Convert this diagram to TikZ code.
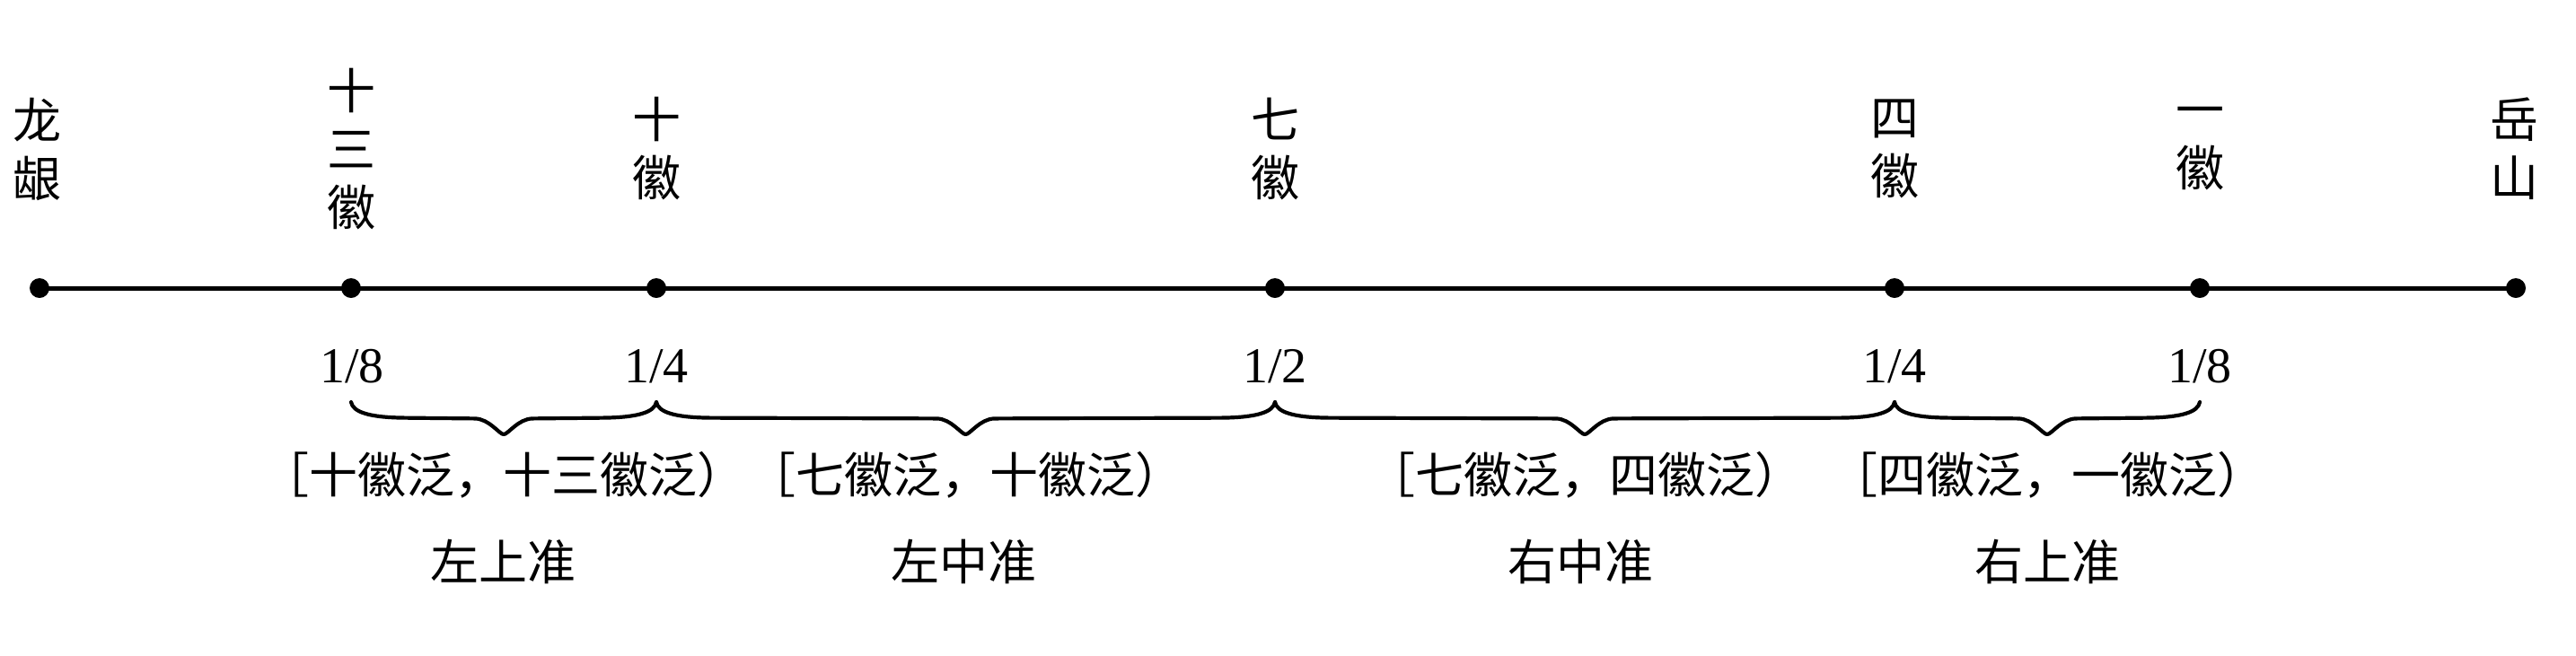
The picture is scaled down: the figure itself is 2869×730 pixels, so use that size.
\documentclass[tikz,border=0pt]{standalone}
\usepackage{fontspec}
\setmainfont{Liberation Serif}
\newfontfamily\cjk{Noto Sans CJK SC}
\usetikzlibrary{calc}
\newcommand{\lbrk}{\makebox[0.5em][r]{［}}
\newcommand{\rbrk}{\makebox[0.5em][l]{）}}
\begin{document}
\begin{tikzpicture}[x=0.25pt,y=-0.25pt,
  dotmark/.style={circle,fill=black,inner sep=0pt,minimum size=5.5pt},
  vlabel/.style={font=\cjk\fontsize{13.5pt}{16.25pt}\selectfont,align=center,inner sep=0pt},
  fraclabel/.style={font=\fontsize{14pt}{16pt}\selectfont,inner sep=0pt},
  rangelabel/.style={font=\cjk\fontsize{13.5pt}{16pt}\selectfont,inner sep=0pt},
  zhunlabel/.style={font=\cjk\fontsize{13.5pt}{16pt}\selectfont,inner sep=0pt},
  axisline/.style={line width=1.25pt},
  bracebar/.style={line width=1.05pt,line join=round,line cap=round},
  bracepath/.style={to path={let \p1=(\tikztostart), \p2=(\tikztotarget),
      \p3=($(\p1)!0.5!(\p2)$) in
    (\p1) .. controls (\x1+0.5pt,\y1-2.8pt) and (\x1+5pt,\y1-4.3pt) .. (\x1+15pt,\y1-4.4pt)
    -- (\x3-8pt,\y1-4.6pt)
    .. controls (\x3-4pt,\y1-4.7pt) and (\x3-1.2pt,\y1-9pt) .. (\x3,\y1-9pt)
    .. controls (\x3+1.2pt,\y1-9pt) and (\x3+4pt,\y1-4.7pt) .. (\x3+8pt,\y1-4.6pt)
    -- (\x2-15pt,\y1-4.4pt)
    .. controls (\x2-5pt,\y1-4.3pt) and (\x2-0.5pt,\y1-2.8pt) .. (\p2)}}
]
\useasboundingbox (0,0) rectangle (2869,730);
% points on the string
\node[dotmark] (p0) at (44,321) {};
\node[dotmark] (p1) at (391,321) {};
\node[dotmark] (p2) at (731,321) {};
\node[dotmark] (p3) at (1420,321) {};
\node[dotmark] (p4) at (2110,321) {};
\node[dotmark] (p5) at (2450,321) {};
\node[dotmark] (p6) at (2802,321) {};
\draw[axisline] (p0.center) -- (p6.center);
% names above
\node[vlabel] (l0) at (41,166) {龙\\龈};
\node[vlabel] (l1) at (391,166) {十\\三\\徽};
\node[vlabel] (l2) at (731,166) {十\\徽};
\node[vlabel] (l3) at (1420,166) {七\\徽};
\node[vlabel] (l4) at (2110,166) {四\\徽};
\node[vlabel] (l5) at (2450,166) {一\\徽};
\node[vlabel] (l6) at (2800,166) {岳\\山};
% fractions
\node[fraclabel] (f1) at (392,408) {1/8};
\node[fraclabel] (f2) at (731,408) {1/4};
\node[fraclabel] (f3) at (1420,408) {1/2};
\node[fraclabel] (f4) at (2110,408) {1/4};
\node[fraclabel] (f5) at (2450,408) {1/8};
% braces
\coordinate (b1) at (391,448);
\coordinate (b2) at (731,448);
\coordinate (b3) at (1420,448);
\coordinate (b4) at (2110,448);
\coordinate (b5) at (2450,448);
\draw[bracebar] (b1) to[bracepath] (b2);
\draw[bracebar] (b2) to[bracepath] (b3);
\draw[bracebar] (b3) to[bracepath] (b4);
\draw[bracebar] (b4) to[bracepath] (b5);
% ranges
\node[rangelabel] (r1) at (560,529) {\lbrk 十徽泛，十三徽泛\rbrk};
\node[rangelabel] (r2) at (1075,529) {\lbrk 七徽泛，十徽泛\rbrk};
\node[rangelabel] (r3) at (1765,529) {\lbrk 七徽泛，四徽泛\rbrk};
\node[rangelabel] (r4) at (2280,529) {\lbrk 四徽泛，一徽泛\rbrk};
% positions
\node[zhunlabel] (z1) at (560,626) {左上准};
\node[zhunlabel] (z2) at (1073,626) {左中准};
\node[zhunlabel] (z3) at (1760,626) {右中准};
\node[zhunlabel] (z4) at (2280,626) {右上准};
\end{tikzpicture}
\end{document}
